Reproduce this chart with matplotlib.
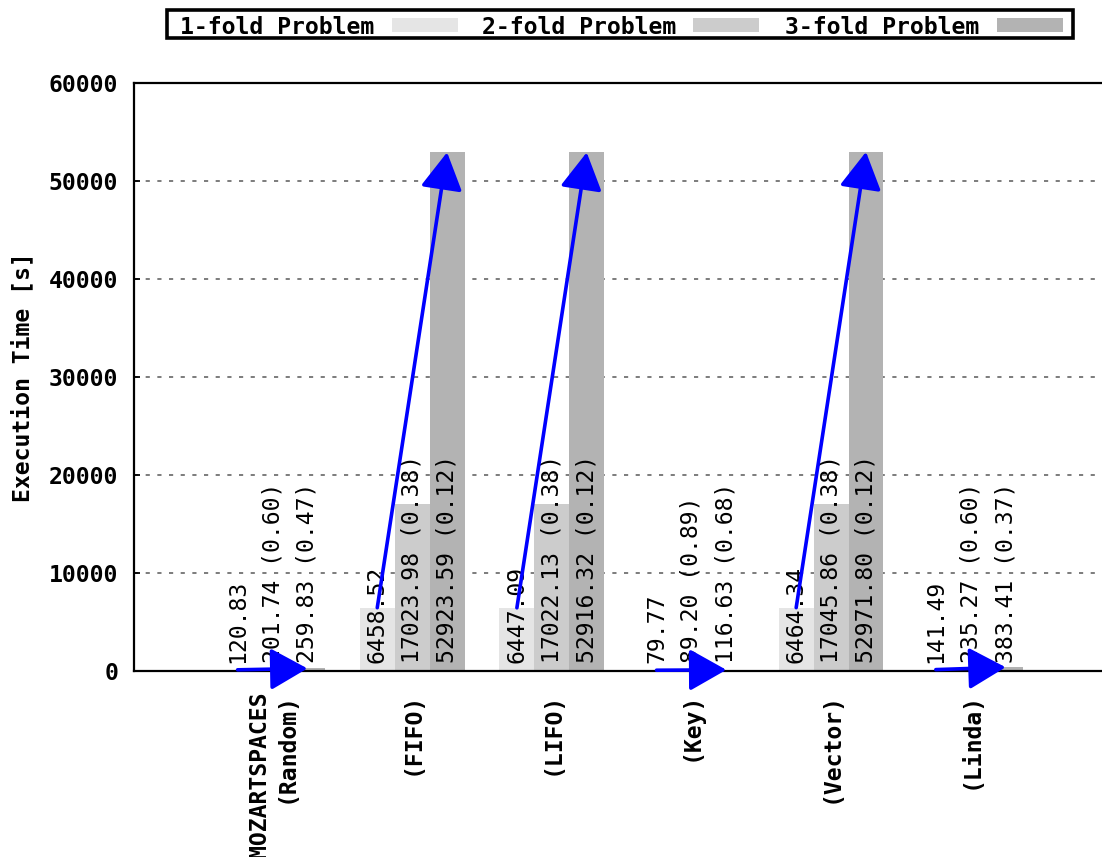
import matplotlib
matplotlib.use("Agg")
import matplotlib.pyplot as plt
from matplotlib.patches import Rectangle, ArrowStyle

# ---- data -------------------------------------------------------------
categories = ["MOZARTSPACES\n(Random)", "(FIFO)", "(LIFO)", "(Key)", "(Vector)", "(Linda)"]
series_names = ["1-fold Problem", "2-fold Problem", "3-fold Problem"]
fold1 = [120.83, 6458.52, 6447.09, 79.77, 6464.34, 141.49]
fold2 = [201.74, 17023.98, 17022.13, 89.20, 17045.86, 235.27]
fold3 = [259.83, 52923.59, 52916.32, 116.63, 52971.80, 383.41]
y_ticks = [0, 10000, 20000, 30000, 40000, 50000, 60000]
y_label = "Execution Time [s]"

# ---- style ------------------------------------------------------------
W, H, DPI = 1102, 857, 100
FONT = "DejaVu Sans Mono"
FS = 16.7
bar_colors = ["#e5e5e5", "#cccccc", "#b3b3b3"]
arrow_color = "#0000ff"
bar_w = 0.25

plt.rcParams["font.family"] = [FONT, "DejaVu Sans"]

fig = plt.figure(figsize=(W / DPI, H / DPI), dpi=DPI)
fig.patch.set_facecolor("white")

# axes box in pixel terms: left 134, top 83, bottom 671, runs to the right edge
ax_left, ax_top, ax_bottom = 134, 83, 671
ax = fig.add_axes([ax_left / W, (H - ax_bottom) / H, (W - ax_left) / W, (ax_bottom - ax_top) / H])

series = [fold1, fold2, fold3]
xs = list(range(len(categories)))

for s, vals in enumerate(series):
    offs = [x + (s - 1) * bar_w for x in xs]
    ax.bar(offs, vals, width=bar_w, color=bar_colors[s], linewidth=0, zorder=2)
    for xi, v, base in zip(offs, vals, fold1):
        if s == 0:
            txt = f"{v:.2f}"
        else:
            txt = f"{v:.2f} ({base / v:.2f})"
        ax.text(xi, 800, txt, rotation=90, ha="center", va="bottom",
                fontsize=FS, family=FONT, color="black", zorder=3)

# speed-up arrows from the 1-fold to the 3-fold bar of each group
head = ArrowStyle("-|>", head_length=2.3, head_width=1.3)
for x, a, c in zip(xs, fold1, fold3):
    ax.annotate("", xy=(x + bar_w, c), xytext=(x - bar_w, a),
                arrowprops=dict(arrowstyle=head, mutation_scale=10, color=arrow_color,
                                lw=2.6, shrinkA=0, shrinkB=0),
                zorder=4, annotation_clip=False)

ax.set_xlim(-0.992, 5.94)
ax.set_ylim(0, 60000)

ax.set_yticks(y_ticks)
ax.set_yticklabels([str(t) for t in y_ticks], fontsize=FS, fontweight="bold", family=FONT)
ax.tick_params(axis="y", direction="in", length=4.5, width=1.3, pad=11.5, left=True, right=False)

ax.set_xticks(xs)
ax.set_xticklabels(categories, rotation=90, ha="center", va="top", multialignment="right",
                   fontsize=FS, fontweight="bold", family=FONT)
ax.tick_params(axis="x", length=0, pad=15)

ax.set_axisbelow(True)
ax.yaxis.grid(True, linestyle=(0, (2.5, 4.5)), color="#666666", linewidth=1.2)
ax.xaxis.grid(False)

for side in ("left", "top", "bottom"):
    ax.spines[side].set_linewidth(1.6)
    ax.spines[side].set_color("black")
ax.spines["right"].set_visible(False)

ax.set_ylabel(y_label, fontsize=FS, fontweight="bold", family=FONT)
ax.yaxis.set_label_coords(-0.103, 0.5)

# ---- legend row across the top -----------------------------------------
def fx(px):
    return px / W

def fy(py):
    return 1 - py / H

frame = Rectangle((fx(167), fy(38)), fx(1073) - fx(167), fy(10) - fy(38),
                  transform=fig.transFigure, fill=False, edgecolor="black", linewidth=2.6)
fig.add_artist(frame)

text_x = [180, 482, 785]
swatch_x = [392, 693, 997]
for name, tx, sx, col in zip(series_names, text_x, swatch_x, bar_colors):
    fig.text(fx(tx), fy(34), name, ha="left", va="baseline", fontsize=FS,
             fontweight="bold", family=FONT)
    fig.add_artist(Rectangle((fx(sx), fy(32)), fx(66), fy(18) - fy(32),
                             transform=fig.transFigure, facecolor=col, edgecolor="none"))

fig.savefig("out.png", dpi=DPI)
